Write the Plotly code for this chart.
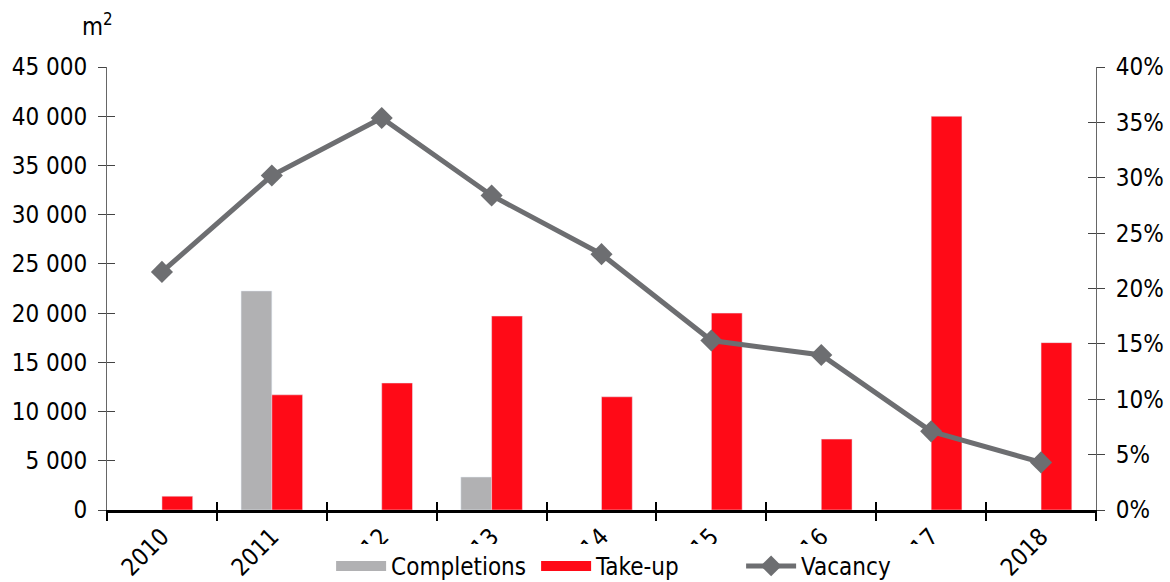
import plotly.graph_objects as go

years = ["2010", "2011", "2012", "2013", "2014", "2015", "2016", "2017", "2018"]
completions = [None, 22250, None, 3350, None, None, None, None, None]
take_up = [1400, 11700, 12900, 19700, 11500, 20000, 7200, 40000, 17000]
vacancy = [0.215, 0.302, 0.354, 0.284, 0.231, 0.153, 0.140, 0.071, 0.043]

left_ticks = [0, 5000, 10000, 15000, 20000, 25000, 30000, 35000, 40000, 45000]
left_labels = ["0", "5 000", "10 000", "15 000", "20 000", "25 000", "30 000", "35 000", "40 000", "45 000"]

FONT = "Liberation Sans Narrow, Arial Narrow, DejaVu Sans Condensed, Liberation Sans, Arial"
GREY = "#B1B1B3"
RED = "#FF0A17"
LINE = "#6D6E71"

fig = go.Figure()
fig.add_trace(go.Bar(x=years, y=completions, name="Completions", marker_color=GREY,
                     showlegend=False, yaxis="y"))
fig.add_trace(go.Bar(x=years, y=take_up, name="Take-up", marker_color=RED,
                     showlegend=False, yaxis="y"))
fig.add_trace(go.Scatter(x=years, y=vacancy, name="Vacancy", yaxis="y2", mode="lines+markers",
                         line=dict(color=LINE, width=5),
                         marker=dict(symbol="diamond", size=17, color=LINE),
                         showlegend=False))
# legend entries
fig.add_trace(go.Scatter(x=[None], y=[None], name="Completions", mode="lines",
                         line=dict(color=GREY, width=16)))
fig.add_trace(go.Scatter(x=[None], y=[None], name="Take-up", mode="lines",
                         line=dict(color=RED, width=16)))
fig.add_trace(go.Scatter(x=[None], y=[None], name="Vacancy", mode="lines+markers",
                         line=dict(color=LINE, width=5),
                         marker=dict(symbol="diamond", size=17, color=LINE)))
# overlay axes for crossing ticks
fig.add_trace(go.Scatter(x=[None], y=[None], xaxis="x2", yaxis="y3", showlegend=False))
fig.add_trace(go.Scatter(x=[None], y=[None], xaxis="x2", yaxis="y4", showlegend=False))

fig.update_layout(
    width=1170, height=582,
    margin=dict(l=107, r=74, t=67, b=72, autoexpand=False),
    paper_bgcolor="white", plot_bgcolor="white",
    font=dict(family=FONT, size=24, color="black"),
    barmode="group", bargap=0.44, bargroupgap=0,
    showlegend=True,
    legend=dict(orientation="h", x=0.283, xanchor="left", xref="container",
                y=0.027, yanchor="middle", yref="container",
                bgcolor="white", font=dict(size=24), itemwidth=50,
                entrywidth=140, entrywidthmode="pixels"),
    xaxis=dict(type="category", categoryorder="array", categoryarray=years,
               range=[-0.5, 8.5], tickson="boundaries", ticks="outside", ticklen=8,
               tickwidth=2, tickcolor="black", showline=True, linecolor="black", linewidth=3,
               tickangle=-45, showgrid=False, zeroline=False, anchor="y",
               tickfont=dict(size=24)),
    xaxis2=dict(overlaying="x", range=[-0.5, 8.5], tickvals=[i - 0.5 for i in range(10)],
                ticks="inside", ticklen=8, tickwidth=2, tickcolor="black",
                showticklabels=False, showgrid=False, zeroline=False, showline=False,
                anchor="y", side="bottom"),
    yaxis=dict(range=[0, 45000], tickvals=left_ticks, ticktext=left_labels,
               ticks="outside", ticklen=8, tickcolor="#444", tickwidth=1,
               showline=True, linecolor="#666", linewidth=1, showgrid=False, zeroline=False,
               ticklabelstandoff=6),
    yaxis2=dict(range=[0, 0.40], tickvals=[i * 0.05 for i in range(9)], tickformat=".0%",
                overlaying="y", side="right", ticks="outside", ticklen=8, tickcolor="#444",
                showline=True, linecolor="#666", linewidth=1, showgrid=False, zeroline=False,
                anchor="x", ticklabelstandoff=6),
    yaxis3=dict(range=[0, 45000], tickvals=left_ticks, overlaying="y", side="left",
                ticks="inside", ticklen=8, tickcolor="#444", showticklabels=False,
                showgrid=False, zeroline=False, showline=False, anchor="x2"),
    yaxis4=dict(range=[0, 0.40], tickvals=[i * 0.05 for i in range(9)], overlaying="y",
                side="right", ticks="inside", ticklen=8, tickcolor="#444", showticklabels=False,
                showgrid=False, zeroline=False, showline=False, anchor="x2"),
    annotations=[dict(text="m<sup>2</sup>", xref="paper", yref="paper", x=-0.01, y=1.095,
                      xanchor="center", yanchor="middle", showarrow=False,
                      font=dict(size=24))],
)

fig.write_html("out.html")
